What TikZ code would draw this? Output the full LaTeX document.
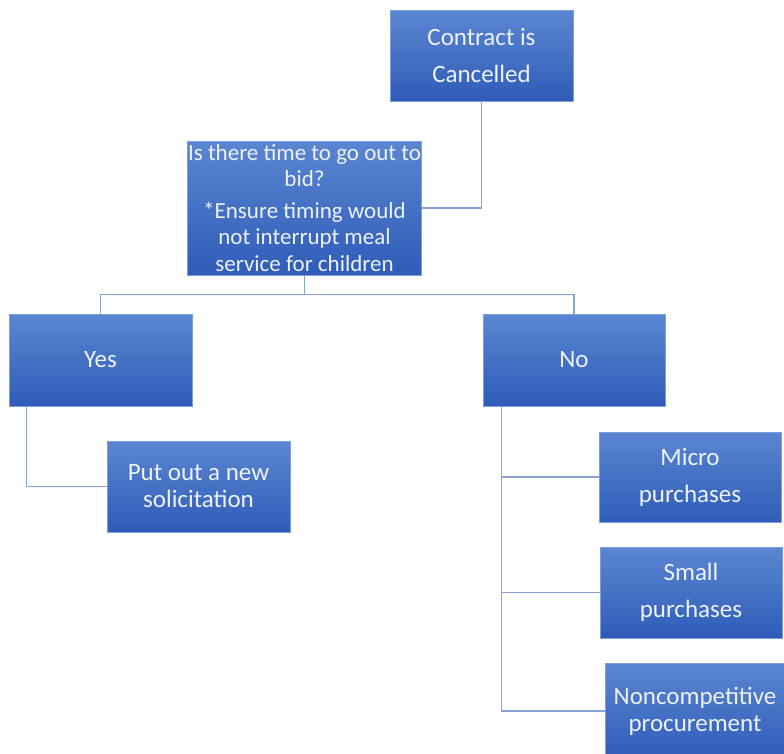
\documentclass[tikz,border=0pt]{standalone}
\usepackage{fontspec}
\setmainfont{Carlito}
\definecolor{boxtop}{HTML}{5B86D2}
\definecolor{boxbot}{HTML}{2F5CB8}
\definecolor{boxedge}{HTML}{7D9EDB}
\definecolor{linkc}{HTML}{8AA3D4}
\definecolor{txt}{HTML}{EDF1F8}
\tikzset{
  box/.style={rectangle, top color=boxtop, bottom color=boxbot, draw=boxedge, line width=1pt,
    text=txt, align=center, inner sep=1pt, font=\fontsize{25}{27}\selectfont},
  wide/.style={font=\fontsize{25}{37}\selectfont},
  link/.style={draw=linkc, line width=1.8pt}
}
\begin{document}
\begin{tikzpicture}[x=1pt,y=-1pt]
\useasboundingbox (0,0) rectangle (784,753);
\node[box, wide, minimum width=183pt, minimum height=91pt] (c1) at (481.5,55.5) {Contract is\\Cancelled};
\node[box, minimum width=233pt, minimum height=134pt, font=\fontsize{23}{26.5}\selectfont] (q) at (304.5,208)
  {Is there time to go out to\\bid?\\[5pt]*Ensure timing would\\not interrupt meal\\service for children};
\node[box, minimum width=183pt, minimum height=92pt] (yes) at (100.5,360) {Yes};
\node[box, minimum width=182pt, minimum height=92pt] (no) at (574,360) {No};
\node[box, minimum width=183pt, minimum height=91pt] (put) at (198.5,486.5) {Put out a new\\solicitation};
\node[box, wide, minimum width=182pt, minimum height=90pt] (micro) at (690,477) {Micro\\purchases};
\node[box, wide, minimum width=182pt, minimum height=91pt] (small) at (691,592.5) {Small\\purchases};
\node[box, minimum width=180pt, minimum height=96pt] (nc) at (695,711) {Noncompetitive\\procurement};

\draw[link] (c1.south) |- (q.east);
\coordinate (qb) at ([yshift=-19pt]q.south);
\draw[link] (q.south) -- (qb) -| (yes.north);
\draw[link] (qb) -| (no.north);
\draw[link] ([xshift=18pt]yes.south west) |- (put.west);
\coordinate (nb) at ([xshift=19pt]no.south west);
\draw[link] (nb) |- (nc.west);
\draw[link] (nb) |- (micro.west);
\draw[link] (nb) |- (small.west);
\end{tikzpicture}
\end{document}
